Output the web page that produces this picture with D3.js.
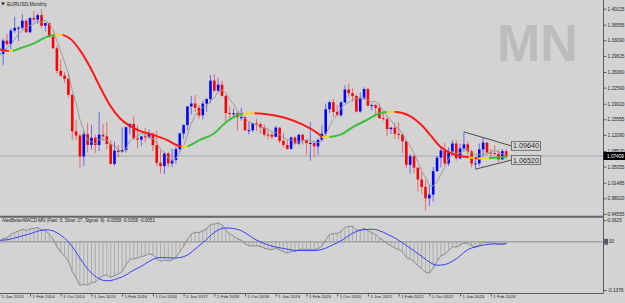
<!DOCTYPE html>
<html><head><meta charset="utf-8">
<script src="https://cdn.jsdelivr.net/npm/d3@7"></script>
<style>
body{margin:0;background:#d3d3d3}
svg{display:block}
text{font-family:"Liberation Sans",Arial,sans-serif}
</style></head>
<body><svg id="c" width="625" height="303"></svg>
<script>
// ---------------- DATA (EURUSD, Monthly, Jun 2013 .. Jun 2024) ----------------
const opens = [1.2999,1.3010,1.3302,1.3222,1.3525,1.3586,1.3588,1.3743,1.3486,1.3802,1.3769,1.3868,1.3634,1.3692,1.3389,1.3131,1.2630,1.2525,1.2452,1.2098,1.1290,1.1196,1.0731,1.1224,1.0987,1.1146,1.0985,1.1212,1.1176,1.1006,1.0566,1.0862,1.0831,1.0873,1.1380,1.1454,1.1131,1.1105,1.1175,1.1157,1.1238,1.0981,1.0589,1.0517,1.0798,1.0575,1.0652,1.0894,1.1240,1.1426,1.1842,1.1906,1.1811,1.1644,1.1904,1.2005,1.2414,1.2193,1.2324,1.2076,1.1693,1.1684,1.1691,1.1601,1.1604,1.1312,1.1314,1.1466,1.1448,1.1371,1.1216,1.1214,1.1168,1.1371,1.1076,1.0986,1.0899,1.1152,1.1018,1.1212,1.1092,1.1026,1.1031,1.0955,1.1098,1.1235,1.1779,1.1935,1.1720,1.1647,1.1928,1.2216,1.2136,1.2075,1.1729,1.2019,1.2227,1.1858,1.1870,1.1807,1.1580,1.1559,1.1338,1.1370,1.1234,1.1218,1.1067,1.0545,1.0733,1.0484,1.0220,1.0054,0.9801,0.9884,1.0405,1.0705,1.0863,1.0576,1.0839,1.1019,1.0689,1.0910,1.0998,1.0844,1.0573,1.0576,1.0888,1.1039,1.0818,1.0805,1.0789,1.0665,1.0848];
const highs = [1.3417,1.3346,1.3452,1.3569,1.3833,1.3620,1.3893,1.3775,1.3825,1.3967,1.3906,1.3993,1.3700,1.3700,1.3444,1.3186,1.2886,1.2600,1.2570,1.2110,1.1534,1.1245,1.1290,1.1467,1.1436,1.1216,1.1714,1.1460,1.1495,1.1095,1.1060,1.0986,1.1376,1.1396,1.1464,1.1616,1.1428,1.1186,1.1366,1.1327,1.1260,1.1300,1.0875,1.0829,1.0829,1.0906,1.0950,1.1268,1.1446,1.1846,1.2070,1.2092,1.1880,1.1961,1.2023,1.2537,1.2556,1.2476,1.2414,1.2096,1.1852,1.1791,1.1733,1.1815,1.1625,1.1500,1.1486,1.1570,1.1489,1.1448,1.1324,1.1265,1.1412,1.1383,1.1249,1.1109,1.1179,1.1175,1.1239,1.1239,1.1101,1.1495,1.1039,1.1136,1.1422,1.1908,1.1966,1.2011,1.1880,1.1960,1.2310,1.2349,1.2243,1.2113,1.2150,1.2266,1.2254,1.1909,1.1901,1.1909,1.1692,1.1616,1.1386,1.1482,1.1495,1.1234,1.1076,1.0786,1.0773,1.0486,1.0368,1.0198,1.0094,1.0497,1.0736,1.0929,1.1033,1.0930,1.1095,1.1092,1.1012,1.1276,1.1065,1.0882,1.0695,1.1017,1.1140,1.1046,1.0898,1.0981,1.0885,1.0895,1.0902];
const lows = [1.2986,1.2755,1.3186,1.3104,1.3477,1.3295,1.3544,1.3477,1.3477,1.3706,1.3673,1.3586,1.3503,1.3367,1.3132,1.2570,1.2501,1.2358,1.2035,1.1098,1.1098,1.0462,1.0520,1.0819,1.0889,1.0808,1.0847,1.1086,1.0896,1.0557,1.0524,1.0711,1.0810,1.0822,1.1216,1.1098,1.0912,1.0952,1.1046,1.1122,1.0851,1.0518,1.0352,1.0340,1.0493,1.0494,1.0569,1.0839,1.1118,1.1312,1.1661,1.1717,1.1574,1.1554,1.1717,1.1916,1.2154,1.2155,1.2057,1.1510,1.1508,1.1575,1.1301,1.1527,1.1302,1.1216,1.1269,1.1289,1.1234,1.1176,1.1111,1.1107,1.1160,1.1028,1.0926,1.0879,1.0879,1.0981,1.0981,1.0992,1.0778,1.0636,1.0727,1.0767,1.1075,1.1185,1.1697,1.1612,1.1623,1.1603,1.1925,1.2054,1.1952,1.1704,1.1704,1.1986,1.1845,1.1752,1.1664,1.1563,1.1524,1.1186,1.1222,1.1121,1.1106,1.0806,1.0471,1.0349,1.0359,0.9952,0.9901,0.9536,0.9632,0.9730,1.0393,1.0483,1.0533,1.0516,1.0788,1.0635,1.0662,1.0833,1.0766,1.0488,1.0448,1.0517,1.0723,1.0795,1.0695,1.0768,1.0601,1.0650,1.0668];
const closes = [1.3010,1.3302,1.3222,1.3525,1.3586,1.3588,1.3743,1.3486,1.3802,1.3769,1.3868,1.3634,1.3692,1.3389,1.3131,1.2630,1.2525,1.2452,1.2098,1.1290,1.1196,1.0731,1.1224,1.0987,1.1146,1.0985,1.1212,1.1176,1.1006,1.0566,1.0862,1.0831,1.0873,1.1380,1.1454,1.1131,1.1105,1.1175,1.1157,1.1238,1.0981,1.0589,1.0517,1.0798,1.0575,1.0652,1.0894,1.1240,1.1426,1.1842,1.1906,1.1811,1.1644,1.1904,1.2005,1.2414,1.2193,1.2324,1.2076,1.1693,1.1684,1.1691,1.1601,1.1604,1.1312,1.1314,1.1466,1.1448,1.1371,1.1216,1.1214,1.1168,1.1371,1.1076,1.0986,1.0899,1.1152,1.1018,1.1212,1.1092,1.1026,1.1031,1.0955,1.1098,1.1235,1.1779,1.1935,1.1720,1.1647,1.1928,1.2216,1.2136,1.2075,1.1729,1.2019,1.2227,1.1858,1.1870,1.1807,1.1580,1.1559,1.1338,1.1370,1.1234,1.1218,1.1067,1.0545,1.0733,1.0484,1.0220,1.0054,0.9801,0.9884,1.0405,1.0705,1.0863,1.0576,1.0839,1.1019,1.0689,1.0910,1.0998,1.0844,1.0573,1.0576,1.0888,1.1039,1.0818,1.0805,1.0789,1.0665,1.0848,1.07409];

// fast moving average (thin grey line)
const fastMA = [1.3009,1.3058,1.3139,1.3211,1.3329,1.3445,1.3533,1.3586,1.3641,1.3678,1.3734,1.3712,1.3753,1.3670,1.3543,1.3295,1.3073,1.2825,1.2567,1.2199,1.1912,1.1553,1.1308,1.1086,1.1057,1.1015,1.1111,1.1101,1.1105,1.0989,1.0964,1.0888,1.0828,1.0902,1.1080,1.1134,1.1189,1.1249,1.1204,1.1161,1.1131,1.1028,1.0896,1.0825,1.0692,1.0626,1.0687,1.0832,1.0957,1.1211,1.1462,1.1645,1.1726,1.1821,1.1854,1.1956,1.2032,1.2168,1.2202,1.2140,1.1994,1.1894,1.1749,1.1655,1.1578,1.1504,1.1459,1.1429,1.1382,1.1363,1.1343,1.1283,1.1268,1.1209,1.1163,1.1100,1.1097,1.1026,1.1053,1.1075,1.1100,1.1076,1.1063,1.1040,1.1069,1.1220,1.1400,1.1553,1.1663,1.1802,1.1889,1.1929,1.2000,1.2017,1.2035,1.2037,1.1982,1.1941,1.1956,1.1868,1.1735,1.1631,1.1531,1.1416,1.1344,1.1245,1.1087,1.0959,1.0809,1.0610,1.0407,1.0258,1.0089,1.0073,1.0170,1.0332,1.0487,1.0678,1.0800,1.0797,1.0807,1.0891,1.0892,1.0803,1.0780,1.0776,1.0784,1.0779,1.0825,1.0868,1.0823,1.0785,1.0770];

// slow moving average (thick coloured line), read at these month positions
const slowMonths = [0,3,6,9,12,15.4,18.4,21,23.6,26.2,28.8,31.4,34,36.6,40.1,43.6,47,48.4,52.3,55.7,59.2,62.2,64.8,69.6,74.8,79.2,82.7,84.4,88.7,92.2,95.7,99.1,101.7,105.2,107.8,110.4,112.6,114.8,117.4,120,122.6,125.2,129,132];
const slowValues = [1.311,1.307,1.315,1.324,1.3375,1.344,1.335,1.309,1.272,1.228,1.187,1.158,1.141,1.130,1.121,1.110,1.096,1.0947,1.110,1.123,1.150,1.165,1.169,1.167,1.158,1.143,1.126,1.1155,1.121,1.139,1.154,1.169,1.1724,1.169,1.158,1.139,1.117,1.095,1.081,1.074,1.071,1.0685,1.070,1.0725];
// colour state of the slow line from each month onwards
const slowStateFrom = [0,2.5,3.5,14.5,16.5,47.5,49,63.5,66.5,84,86,101,103,122.3,123.8,124.6,127.5];
const slowState = ['down','flat','up','flat','down','flat','up','flat','down','flat','up','flat','down','flat','down','flat','up'];

// MACD (Fast 5, Slow 27, Signal 9)
const macdValues = [0.0020,0.0092,0.0114,0.0204,0.0271,0.0307,0.0362,0.0321,0.0370,0.0383,0.0407,0.0351,0.0324,0.0220,0.0082,-0.0136,-0.0295,-0.0406,-0.0558,-0.0850,-0.1035,-0.1247,-0.1219,-0.1235,-0.1173,-0.1150,-0.1048,-0.0970,-0.0943,-0.1019,-0.0964,-0.0916,-0.0853,-0.0661,-0.0507,-0.0484,-0.0465,-0.0424,-0.0393,-0.0344,-0.0372,-0.0484,-0.0560,-0.0520,-0.0542,-0.0522,-0.0434,-0.0279,-0.0127,0.0078,0.0220,0.0278,0.0264,0.0317,0.0369,0.0499,0.0510,0.0539,0.0479,0.0330,0.0228,0.0161,0.0092,0.0048,-0.0057,-0.0120,-0.0116,-0.0116,-0.0134,-0.0182,-0.0208,-0.0231,-0.0187,-0.0233,-0.0279,-0.0324,-0.0277,-0.0277,-0.0220,-0.0211,-0.0217,-0.0215,-0.0228,-0.0194,-0.0132,0.0052,0.0205,0.0239,0.0235,0.0301,0.0410,0.0447,0.0443,0.0339,0.0343,0.0392,0.0316,0.0264,0.0210,0.0112,0.0043,-0.0058,-0.0111,-0.0177,-0.0218,-0.0278,-0.0445,-0.0489,-0.0570,-0.0676,-0.0768,-0.0874,-0.0896,-0.0752,-0.0566,-0.0397,-0.0358,-0.0256,-0.0139,-0.0150,-0.0095,-0.0036,-0.0039,-0.0111,-0.0152,-0.0092,-0.0013,-0.0021,-0.0030,-0.0039,-0.0075,-0.0048,-0.0058];
const signalValues = [0.004,0.005,0.006,0.008,0.011,0.014,0.017,0.020,0.0229,0.0269,0.0304,0.0331,0.0344,0.0338,0.0313,0.0258,0.0190,0.0103,-0.0001,-0.0141,-0.0295,-0.0469,-0.0629,-0.0776,-0.0891,-0.0986,-0.1057,-0.1103,-0.1113,-0.1112,-0.1080,-0.1046,-0.1004,-0.0947,-0.0876,-0.0813,-0.0757,-0.0699,-0.0630,-0.0561,-0.0500,-0.0459,-0.0448,-0.0450,-0.0456,-0.0462,-0.0463,-0.0451,-0.0427,-0.0377,-0.0298,-0.0205,-0.0118,-0.0023,0.0076,0.0180,0.0268,0.0342,0.0386,0.0398,0.0393,0.0381,0.0356,0.0321,0.0259,0.0189,0.0116,0.0050,-0.0002,-0.0047,-0.0088,-0.0124,-0.0150,-0.0170,-0.0187,-0.0210,-0.0228,-0.0244,-0.0248,-0.0249,-0.0247,-0.0250,-0.0250,-0.0240,-0.0219,-0.0182,-0.0129,-0.0078,-0.0028,0.0029,0.0099,0.0174,0.0244,0.0297,0.0329,0.0350,0.0358,0.0362,0.0352,0.0318,0.0274,0.0218,0.0168,0.0110,0.0042,-0.0024,-0.0102,-0.0180,-0.0256,-0.0336,-0.0415,-0.0499,-0.0579,-0.0639,-0.0671,-0.0665,-0.0651,-0.0616,-0.0556,-0.0488,-0.0401,-0.0305,-0.0226,-0.0176,-0.0148,-0.0119,-0.0092,-0.0079,-0.0065,-0.0059,-0.0064,-0.0065,-0.0051];

// axes
const timeTickMonths = [0,8,16,24,32,40,48,56,64,72,80,88,96,104,112,120,128];
const timeTickLabels = ["1 Jun 2013","1 Feb 2014","1 Oct 2014","1 Jun 2015","1 Feb 2016","1 Oct 2016","1 Jun 2017","1 Feb 2018","1 Oct 2018","1 Jun 2019","1 Feb 2020","1 Oct 2020","1 Jun 2021","1 Feb 2022","1 Oct 2022","1 Jun 2023","1 Feb 2024"];
const priceTicks = [1.40125,1.36555,1.33090,1.29625,1.26060,1.22590,1.19020,1.15555,1.12090,1.08520,1.05055,1.01485,0.98020,0.94555];
const macdTicks = [0.0625,-0.1379];
const macdTickLabels = ["0.0625","-0.1379"];
const currentPrice = 1.07409;

// triangle trend lines (start month, start price, end month, end price)
const trendStartMonths = [121,124];
const trendStartPrices = [1.1276,1.0448];
const trendEndMonth = 133.4;
const trendEndPrices = [1.0964,1.0652];
const trendLabels = ["1.09640","1.06520"];

// ---------------- DRAWING ----------------
const BG = "#d3d3d3", UP = "#0000ff", DN = "#ff0000", AX = "#5a5a5a", TXT = "#1e1e1e";
const W = 625, H = 303, plotR = 603, mainB = 216, macdT = 218, macdB = 293;
const svg = d3.select("#c");
svg.append("rect").attr("width", W).attr("height", H).attr("fill", BG);

const x = d3.scaleLinear().domain([0, 128]).range([-0.7, 490.8]);
const y = d3.scaleLinear().domain([0.9409, 1.4204]).range([mainB, 0]);
const ym = d3.scaleLinear().domain([-0.1379, 0.0625]).range([290, 220]);

const defs = svg.append("defs");
defs.append("clipPath").attr("id", "clipMain").append("rect").attr("x", 0).attr("y", 0).attr("width", plotR).attr("height", mainB);
defs.append("clipPath").attr("id", "clipMacd").append("rect").attr("x", 0).attr("y", macdT).attr("width", plotR).attr("height", macdB - macdT);

// watermark
svg.append("text").attr("x", 497).attr("y", 61).attr("font-size", 52).attr("font-weight", "bold")
  .attr("fill", "#bcbcbc").text("MN");

const gMain = svg.append("g").attr("clip-path", "url(#clipMain)");
// current price line
gMain.append("line").attr("x1", 0).attr("x2", plotR).attr("y1", y(currentPrice)).attr("y2", y(currentPrice))
  .attr("stroke", "#a6a6a6").attr("stroke-width", 1);

const idx = d3.range(closes.length);
gMain.selectAll("line.wick").data(idx).join("line").attr("class", "wick")
  .attr("x1", i => x(i)).attr("x2", i => x(i))
  .attr("y1", i => y(highs[i])).attr("y2", i => y(lows[i]))
  .attr("stroke", i => closes[i] >= opens[i] ? UP : DN).attr("stroke-opacity", 0.5).attr("stroke-width", 1);
gMain.selectAll("rect.body").data(idx).join("rect").attr("class", "body")
  .attr("x", i => x(i) - 1.3).attr("width", 2.6)
  .attr("y", i => y(Math.max(opens[i], closes[i])))
  .attr("height", i => Math.max(1, Math.abs(y(opens[i]) - y(closes[i]))))
  .attr("fill", i => closes[i] >= opens[i] ? UP : DN);

// fast MA
gMain.append("path").datum(idx)
  .attr("d", d3.line().x(i => x(i)).y(i => y(fastMA[i])))
  .attr("fill", "none").attr("stroke", "#9a9a9a").attr("stroke-width", 1);

// slow MA, coloured by state
const stateColor = {up: "#3cbf3c", down: "#ff1a1a", flat: "#ffd21e"};
const slowLine = d3.line().curve(d3.curveMonotoneX).x((d, i) => x(slowMonths[i])).y(d => y(d));
slowStateFrom.forEach((from, k) => {
  const to = k + 1 < slowStateFrom.length ? slowStateFrom[k + 1] : 140;
  const id = "cs" + k;
  defs.append("clipPath").attr("id", id).append("rect")
    .attr("x", x(from)).attr("width", x(to) - x(from)).attr("y", 0).attr("height", mainB);
  gMain.append("g").attr("clip-path", `url(#${id})`).append("path")
    .attr("d", slowLine(slowValues)).attr("fill", "none")
    .attr("stroke", stateColor[slowState[k]]).attr("stroke-width", 2);
});

// triangle
trendStartMonths.forEach((m, k) => {
  gMain.append("line").attr("x1", x(m)).attr("y1", y(trendStartPrices[k]))
    .attr("x2", x(trendEndMonth)).attr("y2", y(trendEndPrices[k]))
    .attr("stroke", "#4a4a4a").attr("stroke-width", 1);
  const yy = y(trendEndPrices[k]);
  svg.append("rect").attr("x", x(trendEndMonth)).attr("y", yy - 4.3).attr("width", 29).attr("height", 8.6)
    .attr("fill", "#d9d9d9").attr("stroke", "#555").attr("stroke-width", 0.8);
  svg.append("text").attr("x", x(trendEndMonth) + 1.5).attr("y", yy).attr("dy", "0.35em")
    .attr("font-size", 7.2).attr("fill", TXT).text(trendLabels[k]);
});

// title
svg.append("path").attr("d", "M1,2.5L5,2.5L3,5.5Z").attr("fill", "#222");
svg.append("text").attr("x", 7).attr("y", 4).attr("dy", "0.35em").attr("font-size", 5).attr("fill", TXT).text("EURUSD,Monthly");

// separator and frame
svg.append("line").attr("x1", 0).attr("x2", plotR).attr("y1", 216.8).attr("y2", 216.8).attr("stroke", "#666").attr("stroke-width", 2);
svg.append("line").attr("x1", plotR + 0.5).attr("x2", plotR + 0.5).attr("y1", 0).attr("y2", macdB).attr("stroke", AX).attr("stroke-width", 1);
svg.append("line").attr("x1", 0).attr("x2", plotR + 0.5).attr("y1", macdB + 0.5).attr("y2", macdB + 0.5).attr("stroke", AX).attr("stroke-width", 1);

// price axis
const ay = svg.append("g").attr("transform", `translate(${plotR + 0.5},0)`)
  .call(d3.axisRight(y).tickValues(priceTicks).tickFormat(d3.format(".5f")).tickSize(3).tickPadding(1));
ay.select(".domain").remove();
ay.selectAll("line").attr("stroke", AX);
ay.selectAll("text").attr("font-size", 4.7).attr("fill", TXT).attr("font-family", '"Liberation Sans",Arial,sans-serif');
// current price box
svg.append("rect").attr("x", plotR + 0.5).attr("y", y(currentPrice) - 4).attr("width", W - plotR).attr("height", 8).attr("fill", "#000");
svg.append("text").attr("x", plotR + 4).attr("y", y(currentPrice)).attr("dy", "0.35em").attr("font-size", 4.7).attr("fill", "#fff").text(d3.format(".5f")(currentPrice));

// MACD panel
const gM = svg.append("g").attr("clip-path", "url(#clipMacd)");
gM.append("line").attr("x1", 0).attr("x2", plotR).attr("y1", ym(0)).attr("y2", ym(0)).attr("stroke", "#8c8c8c").attr("stroke-width", 1);
gM.selectAll("line.hist").data(idx).join("line").attr("class", "hist")
  .attr("x1", i => x(i)).attr("x2", i => x(i)).attr("y1", ym(0)).attr("y2", i => ym(macdValues[i]))
  .attr("stroke", "#9a9a9a").attr("stroke-width", 0.7);
gM.append("path").datum(idx).attr("d", d3.line().x(i => x(i)).y(i => ym(macdValues[i])))
  .attr("fill", "none").attr("stroke", "#8a8a8a").attr("stroke-width", 1);
gM.append("path").datum(idx).attr("d", d3.line().x(i => x(i)).y(i => ym(signalValues[i])))
  .attr("fill", "none").attr("stroke", "#3c3cff").attr("stroke-width", 1);
svg.append("text").attr("x", 2).attr("y", 220.7).attr("dy", "0.35em").attr("font-size", 4.6).attr("fill", TXT)
  .text("AlasBetterMACD-MN (Fast: 5, Slow: 27, Signal: 9) -0.0058 -0.0058 -0.0051");

const am = svg.append("g").attr("transform", `translate(${plotR + 0.5},0)`)
  .call(d3.axisRight(ym).tickValues(macdTicks).tickFormat((d, i) => macdTickLabels[i]).tickSize(3).tickPadding(1));
am.select(".domain").remove();
am.selectAll("line").attr("stroke", AX);
am.selectAll("text").attr("font-size", 4.7).attr("fill", TXT).attr("font-family", '"Liberation Sans",Arial,sans-serif');
svg.append("rect").attr("x", plotR + 1).attr("y", ym(0) - 3).attr("width", 4).attr("height", 6).attr("fill", "#6a6a7a");
svg.append("text").attr("x", plotR + 2).attr("y", ym(0)).attr("dy", "0.35em").attr("font-size", 4.7).attr("fill", TXT).text("0.00");

// time axis
const ax = svg.append("g").attr("transform", `translate(0,${macdB + 0.5})`)
  .call(d3.axisBottom(x).tickValues(timeTickMonths).tickFormat((d, i) => timeTickLabels[i]).tickSize(3));
ax.select(".domain").remove();
ax.selectAll("line").attr("stroke", AX);
ax.selectAll("text").attr("font-size", 4.4).attr("fill", TXT).attr("text-anchor", "start")
  .attr("x", 2).attr("y", 1.5).attr("dy", "0.71em").attr("font-family", '"Liberation Sans",Arial,sans-serif');
</script></body></html>
